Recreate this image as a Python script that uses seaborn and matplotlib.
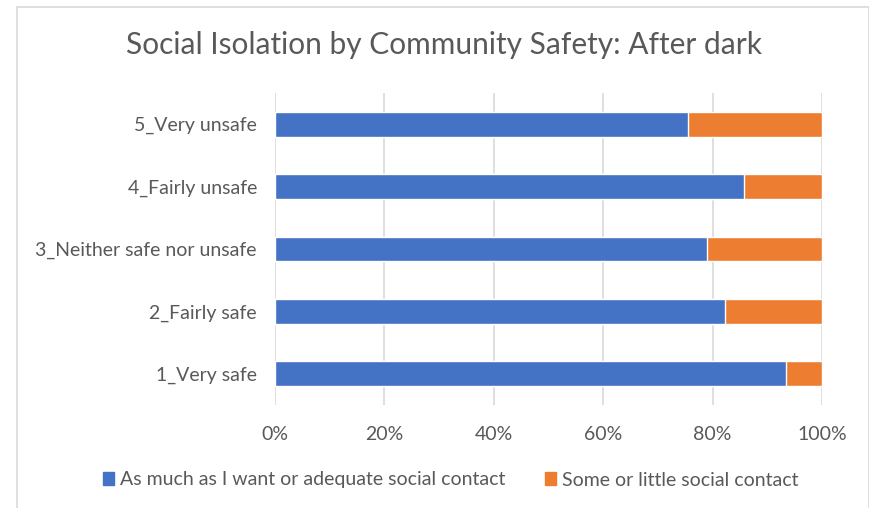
import numpy as np
import pandas as pd
import seaborn as sns
import matplotlib.pyplot as plt
from matplotlib.patches import Patch, Rectangle

categories = ['5_Very unsafe', '4_Fairly unsafe', '3_Neither safe nor unsafe',
              '2_Fairly safe', '1_Very safe']
adequate = [75.5, 85.7, 79.0, 82.3, 93.4]
little = [100 - v for v in adequate]
series_names = ['As much as I want or adequate social contact',
                'Some or little social contact']
ticks = [0, 20, 40, 60, 80, 100]

blue = '#4472C4'
orange = '#ED7D31'
grey_text = '#595959'

sns.set_style('white')
plt.rcParams['font.family'] = ['Lato', 'DejaVu Sans']

df = pd.DataFrame({'cat': categories, 'adequate': adequate, 'little': little})
df['total'] = df.adequate + df.little

fig = plt.figure(figsize=(8.7, 5.08), dpi=100)
ax = fig.add_axes([275 / 870, 1 - 405 / 508, 547 / 870, 312 / 508])

# orange = full 100% bar underneath, blue drawn on top
sns.barplot(data=df, x='total', y='cat', color=orange, width=0.4,
            saturation=1, ax=ax, zorder=3)
sns.barplot(data=df, x='adequate', y='cat', color=blue, width=0.4,
            saturation=1, ax=ax, zorder=4)

ax.set_xlim(0, 100)
ax.set_ylim(4.5, -0.5)
ax.set_xticks(ticks)
ax.set_xticklabels([f'{t}%' for t in ticks])
ax.grid(axis='x', color='#D9D9D9', linewidth=1.2, zorder=0)
ax.set_xlabel('')
ax.set_ylabel('')
for s in ax.spines.values():
    s.set_visible(False)
ax.tick_params(axis='both', length=0, labelsize=14, labelcolor=grey_text)
ax.tick_params(axis='x', pad=15)
ax.tick_params(axis='y', pad=13)

fig.text(0.51, 1 - 45 / 508, 'Social Isolation by Community Safety: After dark',
         ha='center', va='center', fontsize=21.5, color=grey_text)

handles = [Patch(color=blue, label=series_names[0]),
           Patch(color=orange, label=series_names[1])]
fig.legend(handles=handles, loc='center', bbox_to_anchor=(0.518, 1 - 480 / 508),
           ncol=2, frameon=False, fontsize=14, handlelength=0.6, handleheight=0.6,
           handletextpad=0.3, columnspacing=2.0, labelcolor=grey_text)

fig.patches.append(Rectangle((17 / 870, -0.01), 852 / 870, 1 - 7 / 508 + 0.01,
                             transform=fig.transFigure, fill=False,
                             edgecolor='#D9D9D9', linewidth=1.2))

fig.savefig('out.png', dpi=100)
